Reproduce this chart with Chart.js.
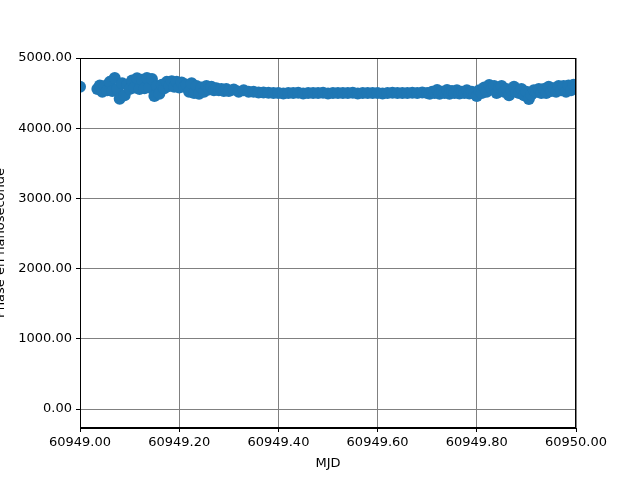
<!DOCTYPE html>
<html>
<head>
<meta charset="utf-8">
<script src="https://cdn.jsdelivr.net/npm/chart.js@4.4.0/dist/chart.umd.min.js"></script>
<style>
  html, body { margin: 0; padding: 0; background: #fff; }
  #wrap { width: 640px; height: 480px; }
</style>
</head>
<body>
<div id="wrap"><canvas id="graficaPhase" width="640" height="480"></canvas></div>
<script>
// MJD (jour) et phase (ns)
const mjd = [
    60949.000,
    60949.035, 60949.040, 60949.045, 60949.050, 60949.055, 60949.060, 60949.065, 60949.070,
    60949.075, 60949.080, 60949.085, 60949.090, 60949.095, 60949.100, 60949.105, 60949.110,
    60949.115, 60949.120, 60949.125, 60949.130, 60949.135, 60949.140, 60949.145, 60949.150,
    60949.155, 60949.160, 60949.165, 60949.170, 60949.175, 60949.180, 60949.185, 60949.190,
    60949.195, 60949.200, 60949.205, 60949.210, 60949.215, 60949.220, 60949.225, 60949.230,
    60949.235, 60949.240, 60949.245, 60949.250, 60949.255, 60949.260, 60949.265, 60949.270,
    60949.275, 60949.280, 60949.285, 60949.290, 60949.295, 60949.300, 60949.310, 60949.320,
    60949.330, 60949.340, 60949.350, 60949.360, 60949.370, 60949.380, 60949.390, 60949.400,
    60949.410, 60949.420, 60949.430, 60949.440, 60949.450, 60949.460, 60949.470, 60949.480,
    60949.490, 60949.500, 60949.510, 60949.520, 60949.530, 60949.540, 60949.550, 60949.560,
    60949.570, 60949.580, 60949.590, 60949.600, 60949.610, 60949.620, 60949.630, 60949.640,
    60949.650, 60949.660, 60949.670, 60949.680, 60949.690, 60949.700, 60949.705, 60949.710,
    60949.715, 60949.720, 60949.725, 60949.730, 60949.735, 60949.740, 60949.745, 60949.750,
    60949.755, 60949.760, 60949.765, 60949.770, 60949.775, 60949.780, 60949.785, 60949.790,
    60949.795, 60949.800, 60949.805, 60949.810, 60949.815, 60949.820, 60949.825, 60949.830,
    60949.835, 60949.840, 60949.845, 60949.850, 60949.855, 60949.860, 60949.865, 60949.870,
    60949.875, 60949.880, 60949.885, 60949.890, 60949.895, 60949.900, 60949.905, 60949.910,
    60949.915, 60949.920, 60949.925, 60949.930, 60949.935, 60949.940, 60949.945, 60949.950,
    60949.955, 60949.960, 60949.965, 60949.970, 60949.975, 60949.980, 60949.985, 60949.990,
    60949.995, 60950.000
];
const phase = [
    4590,
    4560, 4610, 4520, 4600, 4540, 4660, 4530, 4715,
    4560, 4420, 4640, 4470, 4620, 4560, 4680, 4580,
    4710, 4560, 4690, 4570, 4715, 4580, 4700, 4460,
    4600, 4490, 4620, 4570, 4660, 4600, 4670, 4590,
    4660, 4580, 4650, 4590, 4620, 4520, 4640, 4500,
    4600, 4490, 4580, 4520, 4600, 4550, 4590, 4540,
    4570, 4540, 4560, 4530, 4560, 4530, 4550, 4520,
    4540, 4520, 4520, 4510, 4510, 4505, 4500, 4500,
    4495, 4500, 4500, 4505, 4495, 4500, 4500, 4500,
    4505, 4495, 4500, 4500, 4500, 4500, 4505, 4495,
    4500, 4500, 4500, 4500, 4495, 4500, 4505, 4500,
    4500, 4500, 4505, 4500, 4510, 4500, 4490, 4520,
    4500, 4545, 4490, 4520, 4500, 4545, 4490, 4530,
    4500, 4540, 4495, 4520, 4500, 4540, 4495, 4520,
    4490, 4460, 4540, 4500, 4580, 4520, 4615, 4560,
    4600, 4500, 4580, 4600, 4520, 4560, 4470, 4540,
    4590, 4520, 4500, 4560, 4470, 4520, 4416, 4480,
    4540, 4520, 4560, 4500, 4560, 4500, 4590, 4530,
    4570, 4520, 4600, 4540, 4600, 4520, 4610, 4540,
    4620, 4600
];
const xTicks = [60949.0, 60949.2, 60949.4, 60949.6, 60949.8, 60950.0];
const yTicks = [0, 1000, 2000, 3000, 4000, 5000];

const fuente = { family: 'DejaVu Sans', size: 13 };

// cadre noir autour de la zone du graphique (style matplotlib)
const cadrePlugin = {
    id: 'cadre',
    afterDraw(chart) {
        const a = chart.chartArea;
        const ctx = chart.ctx;
        ctx.save();
        ctx.strokeStyle = '#000';
        ctx.lineWidth = 1;
        ctx.strokeRect(a.left + 0.5, a.top + 0.5, a.right - a.left - 1, a.bottom - a.top - 1);
        ctx.restore();
    }
};

Chart.defaults.font.family = 'DejaVu Sans';
Chart.defaults.color = '#000';

const ctx = document.getElementById('graficaPhase').getContext('2d');
new Chart(ctx, {
    type: 'scatter',
    data: {
        datasets: [{
            label: 'Phase',
            data: mjd.map((x, i) => ({ x: x, y: phase[i] })),
            backgroundColor: '#1f77b4',
            borderWidth: 0,
            pointRadius: 6,
            pointHoverRadius: 6
        }]
    },
    options: {
        responsive: false,
        animation: false,
        layout: { padding: { left: 0, top: 58, right: 64, bottom: 9 } },
        plugins: { legend: { display: false }, tooltip: { enabled: false } },
        scales: {
            x: {
                type: 'linear',
                min: 60949,
                max: 60950,
                afterBuildTicks: s => { s.ticks = xTicks.map(v => ({ value: v })); },
                afterFit: s => { s.height = 43; },
                ticks: {
                    font: fuente,
                    color: '#000',
                    padding: 3,
                    maxRotation: 0,
                    callback: v => v.toFixed(2)
                },
                grid: { color: '#808080', tickColor: '#000', tickLength: 4, lineWidth: 1 },
                border: { color: '#000' },
                title: { display: true, text: 'MJD', font: fuente, color: '#000', padding: { top: 2, bottom: 0 } }
            },
            y: {
                min: -270,
                max: 5000,
                afterBuildTicks: s => { s.ticks = yTicks.map(v => ({ value: v })); },
                afterFit: s => { s.width = 80; },
                ticks: {
                    font: fuente,
                    color: '#000',
                    padding: 4,
                    callback: v => v.toFixed(2)
                },
                grid: { color: '#808080', tickColor: '#000', tickLength: 4, lineWidth: 1 },
                border: { color: '#000' },
                title: { display: true, text: 'Phase en nanoseconde', font: fuente, color: '#000', padding: { top: -7, bottom: 0 } }
            }
        }
    },
    plugins: [cadrePlugin]
});
</script>
</body>
</html>
